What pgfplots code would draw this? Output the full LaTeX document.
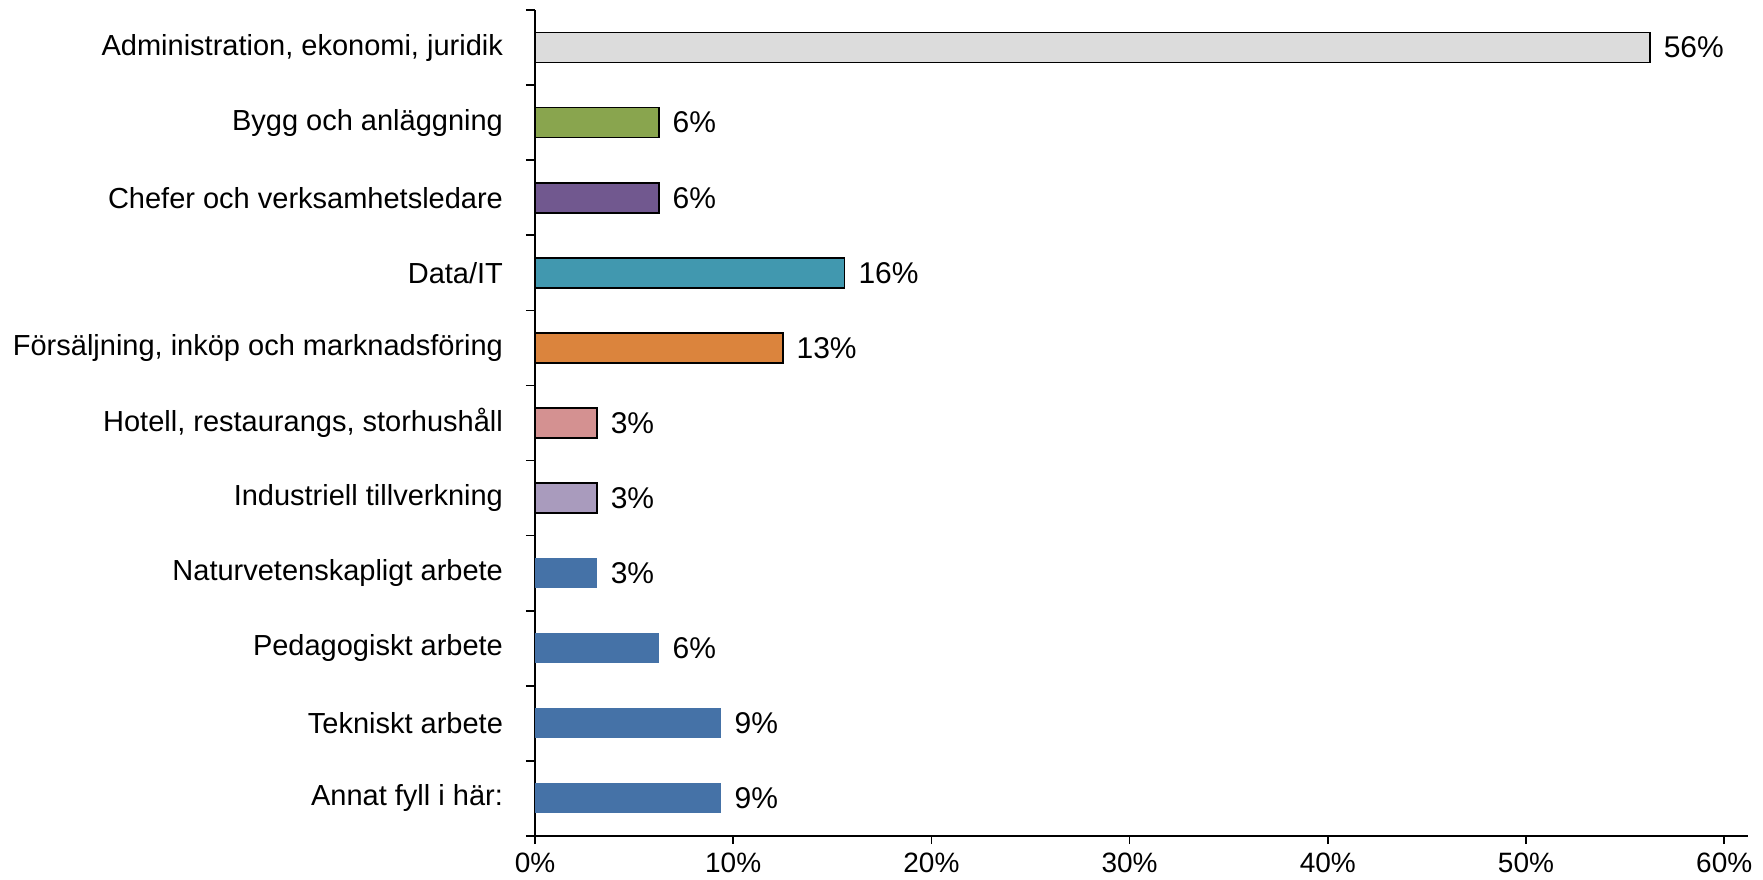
\documentclass[border=0pt]{standalone}
\usepackage{fontspec}
\setmainfont{Liberation Sans}
\usepackage{pgfplots}
\pgfplotsset{compat=1.18}

\definecolor{cGrey}{RGB}{220,220,220}
\definecolor{cGreen}{RGB}{137,165,78}
\definecolor{cPurple}{RGB}{113,88,143}
\definecolor{cTeal}{RGB}{65,152,175}
\definecolor{cOrange}{RGB}{219,132,61}
\definecolor{cPink}{RGB}{212,145,145}
\definecolor{cLav}{RGB}{169,155,189}
\definecolor{cBlue}{RGB}{69,114,167}

\newcommand{\lbl}{\fontsize{14.5}{17}\selectfont}

\begin{document}
\begin{tikzpicture}
\begin{axis}[
    name=a,
    scale only axis,
    width=606.5pt,
    height=413pt,
    xmin=0, xmax=61.2,
    ymin=-0.5, ymax=10.5,
    y dir=reverse,
    axis x line=bottom,
    axis y line=left,
    axis line style={-, line width=0.8pt},
    tick style={line width=0.8pt, black},
    tick align=outside,
    xtick={0,10,...,60},
    xticklabels={0\%,10\%,20\%,30\%,40\%,50\%,60\%},
    major tick length=4pt,
    ytick={0,...,10},
    yticklabels={{Administration, ekonomi, juridik}, Bygg och anläggning,
        Chefer och verksamhetsledare, Data/IT,
        {Försäljning, inköp och marknadsföring},
        {Hotell, restaurangs, storhushåll}, Industriell tillverkning,
        Naturvetenskapligt arbete, Pedagogiskt arbete, Tekniskt arbete,
        Annat fyll i här:},
    ytick style={draw=none},
    extra y ticks={-0.5,0.5,...,10.5},
    extra y tick labels={},
    extra y tick style={ytick style={draw=black, line width=0.8pt}, major tick length=4.5pt},
    yticklabel style={font=\lbl, xshift=-8.5pt},
    xticklabel style={font=\fontsize{14}{16}\selectfont, inner sep=2pt, yshift=-2.5pt},
    xbar, bar width=15pt, bar shift=0pt,
    point meta=explicit symbolic,
    nodes near coords={\pgfplotspointmeta},
    nodes near coords style={font=\fontsize{15}{17}\selectfont, anchor=west, xshift=3.2pt, black},
    every axis plot/.append style={line width=0.8pt},
]
\addplot[fill=cGrey, draw=black] coordinates {(56.25,0) [56\%]};
\addplot[fill=cGreen, draw=black] coordinates {(6.25,1) [6\%]};
\addplot[fill=cPurple, draw=black] coordinates {(6.25,2) [6\%]};
\addplot[fill=cTeal, draw=black] coordinates {(15.625,3) [16\%]};
\addplot[fill=cOrange, draw=black] coordinates {(12.5,4) [13\%]};
\addplot[fill=cPink, draw=black] coordinates {(3.125,5) [3\%]};
\addplot[fill=cLav, draw=black] coordinates {(3.125,6) [3\%]};
\addplot[fill=cBlue, draw=none] coordinates {(3.125,7) [3\%]};
\addplot[fill=cBlue, draw=none] coordinates {(6.25,8) [6\%]};
\addplot[fill=cBlue, draw=none] coordinates {(9.375,9) [9\%]};
\addplot[fill=cBlue, draw=none] coordinates {(9.375,10) [9\%]};
\end{axis}
\pgfresetboundingbox
\path ([xshift=-267.5pt,yshift=-21.5pt]a.south west) rectangle ([xshift=7.5pt,yshift=5pt]a.north east);
\end{tikzpicture}
\end{document}
